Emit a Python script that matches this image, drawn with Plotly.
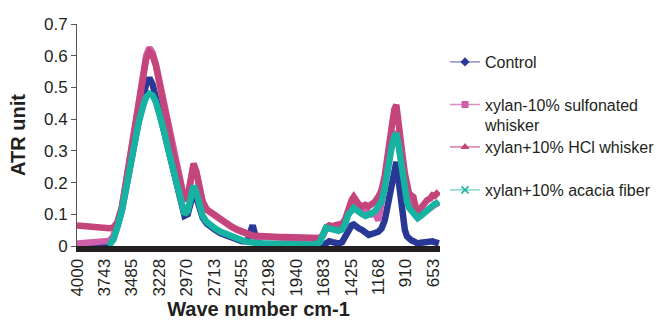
import plotly.graph_objects as go

wavenumber = [4000, 3950, 3900, 3850, 3800, 3750, 3700, 3660, 3620, 3580,
              3540, 3500, 3460, 3420, 3380, 3350, 3320, 3290, 3260, 3220,
              3180, 3140, 3100, 3060, 3020, 2990, 2960, 2930, 2905, 2880,
              2850, 2820, 2780, 2740, 2700, 2650, 2600, 2550, 2500, 2450,
              2400, 2370, 2350, 2330, 2300, 2250, 2200, 2150, 2100, 2050,
              2000, 1950, 1900, 1850, 1800, 1750, 1720, 1690, 1660, 1630,
              1600, 1570, 1540, 1510, 1480, 1450, 1420, 1400, 1380, 1350,
              1320, 1290, 1260, 1230, 1200, 1170, 1140, 1110, 1080, 1060,
              1040, 1020, 1000, 980, 960, 940, 920, 900, 880, 860,
              840, 820, 800, 770, 740, 710, 680, 660, 640, 620,
              600]

control = [0.005, 0.006, 0.008, 0.010, 0.012, 0.012, 0.010, 0.020, 0.060, 0.110,
           0.180, 0.260, 0.340, 0.410, 0.470, 0.510, 0.530, 0.510, 0.470, 0.410,
           0.355, 0.295, 0.240, 0.185, 0.130, 0.095, 0.100, 0.145, 0.170, 0.155,
           0.120, 0.090, 0.070, 0.058, 0.050, 0.040, 0.033, 0.026, 0.020, 0.015,
           0.015, 0.045, 0.065, 0.040, 0.010, 0.006, 0.005, 0.005, 0.005, 0.005,
           0.005, 0.005, 0.005, 0.005, 0.004, 0.004, 0.002, 0.000, 0.008, 0.015,
           0.012, 0.010, 0.008, 0.012, 0.030, 0.050, 0.065, 0.068, 0.060, 0.055,
           0.050, 0.042, 0.035, 0.038, 0.042, 0.045, 0.055, 0.080, 0.130, 0.170,
           0.210, 0.250, 0.265, 0.210, 0.150, 0.090, 0.050, 0.030, 0.020, 0.018,
           0.015, 0.010, 0.008, 0.010, 0.012, 0.012, 0.012, 0.015, 0.012, 0.008,
           0.008]

sulfonated = [0.008, 0.010, 0.010, 0.012, 0.013, 0.014, 0.016, 0.030, 0.075, 0.120,
              0.200, 0.290, 0.385, 0.465, 0.550, 0.600, 0.625, 0.610, 0.575, 0.510,
              0.440, 0.370, 0.300, 0.240, 0.180, 0.145, 0.155, 0.220, 0.255, 0.235,
              0.190, 0.140, 0.113, 0.103, 0.093, 0.080, 0.070, 0.060, 0.051, 0.043,
              0.036, 0.033, 0.031, 0.030, 0.029, 0.028, 0.028, 0.027, 0.026, 0.026,
              0.025, 0.024, 0.023, 0.022, 0.021, 0.021, 0.023, 0.033, 0.055, 0.060,
              0.058, 0.062, 0.066, 0.066, 0.080, 0.110, 0.130, 0.140, 0.130, 0.118,
              0.112, 0.110, 0.105, 0.100, 0.105, 0.080, 0.130, 0.170, 0.245, 0.290,
              0.330, 0.350, 0.360, 0.320, 0.270, 0.220, 0.175, 0.140, 0.125, 0.118,
              0.105, 0.098, 0.092, 0.100, 0.108, 0.115, 0.124, 0.128, 0.130, 0.133,
              0.138]

hcl = [0.065, 0.063, 0.062, 0.064, 0.060, 0.058, 0.056, 0.058, 0.075, 0.120,
       0.200, 0.290, 0.380, 0.460, 0.540, 0.590, 0.612, 0.600, 0.570, 0.510,
       0.440, 0.370, 0.300, 0.240, 0.180, 0.145, 0.155, 0.220, 0.260, 0.235,
       0.190, 0.140, 0.115, 0.105, 0.095, 0.082, 0.072, 0.062, 0.053, 0.045,
       0.038, 0.035, 0.033, 0.032, 0.031, 0.030, 0.030, 0.029, 0.028, 0.028,
       0.027, 0.026, 0.025, 0.024, 0.023, 0.023, 0.025, 0.035, 0.058, 0.065,
       0.062, 0.066, 0.070, 0.070, 0.085, 0.120, 0.145, 0.155, 0.145, 0.130,
       0.125, 0.130, 0.125, 0.130, 0.140, 0.155, 0.175, 0.220, 0.300, 0.350,
       0.400, 0.430, 0.445, 0.400, 0.340, 0.280, 0.230, 0.190, 0.165, 0.160,
       0.155, 0.125, 0.110, 0.120, 0.135, 0.145, 0.150, 0.160, 0.158, 0.165,
       0.172]

acacia = [None, None, None, None, None, None, 0.000, 0.020, 0.060, 0.110,
          0.180, 0.260, 0.330, 0.390, 0.440, 0.470, 0.480, 0.475, 0.455, 0.410,
          0.360, 0.300, 0.245, 0.190, 0.135, 0.100, 0.110, 0.160, 0.190, 0.170,
          0.130, 0.095, 0.075, 0.063, 0.055, 0.045, 0.037, 0.030, 0.024, 0.018,
          0.013, 0.011, 0.010, 0.009, 0.008, 0.007, 0.007, 0.006, 0.006, 0.006,
          0.006, 0.005, 0.005, 0.005, 0.005, 0.006, 0.012, 0.040, 0.058, 0.055,
          0.052, 0.050, 0.048, 0.052, 0.070, 0.100, 0.115, 0.120, 0.115, 0.105,
          0.100, 0.095, 0.097, 0.103, 0.110, 0.125, 0.140, 0.180, 0.250, 0.290,
          0.320, 0.345, 0.355, 0.320, 0.270, 0.220, 0.170, 0.140, 0.120, 0.110,
          0.100, 0.092, 0.088, 0.095, 0.105, 0.115, 0.125, 0.130, 0.132, 0.135,
          0.140]

tick_values = [4000, 3743, 3485, 3228, 2970, 2713, 2455, 2198, 1940, 1683, 1425, 1168, 910, 653]
tick_labels = [str(v) for v in tick_values]

series_names = ["Control", "xylan-10% sulfonated<br>whisker", "xylan+10% HCl whisker", "xylan+10% acacia fiber"]
series_data = [control, sulfonated, hcl, acacia]
line_colors = ["#2a3895", "#d05ea8", "#c4457c", "#16b3a3"]
legend_line_colors = ["#8a90c8", "#e08cc4", "#d97aa3", "#80d8cf"]
marker_symbols = ["diamond", "square", "triangle-up", "x-thin-open"]
marker_sizes = [7, 7, 8, 7]
legend_ids = ["legend", "legend2", "legend3", "legend4"]

L, R, T, B = 77, 440, 24, 246
W, H = 661, 325


def px_x(p):
    return (p - L) / (R - L)


def px_y(p):
    return (B - p) / (B - T)


fig = go.Figure()
for name, vals, col in zip(series_names, series_data, line_colors):
    fig.add_trace(go.Scatter(x=wavenumber, y=vals, mode="lines", name=name,
                             line=dict(color=col, width=6.5), showlegend=False,
                             connectgaps=False, hoverinfo="skip"))

for name, col, lcol, sym, ms, lid in zip(series_names, line_colors, legend_line_colors,
                                         marker_symbols, marker_sizes, legend_ids):
    mk = dict(color=col, symbol=sym, size=ms)
    if sym.startswith("x"):
        mk["line"] = dict(color=col, width=1.5)
    fig.add_trace(go.Scatter(x=[None], y=[None], mode="lines+markers", name=name,
                             line=dict(color=lcol, width=1.5), marker=mk,
                             showlegend=True, legend=lid))

legend_font = dict(family="Liberation Sans, Arial, sans-serif", size=16, color="#231f20")
legend_centers = [62, 115, 147, 190]
legends = {}
for lid, cy in zip(legend_ids, legend_centers):
    legends[lid] = dict(x=px_x(445), xanchor="left", y=px_y(cy), yanchor="middle",
                        font=legend_font, bgcolor="rgba(0,0,0,0)", borderwidth=0,
                        valign="top", itemwidth=30)

fig.update_layout(
    width=W, height=H,
    margin=dict(l=L, r=W - R, t=T, b=H - B, autoexpand=False),
    paper_bgcolor="white", plot_bgcolor="white",
    font=dict(family="Liberation Sans, Arial, sans-serif", color="#231f20"),
    **legends,
)

fig.update_xaxes(
    range=[4000, 590], tickmode="array", tickvals=tick_values, ticktext=tick_labels,
    tickangle=-90, tickfont=dict(size=17, color="#231f20"), automargin=False,
    showline=True, linecolor="#231f20", linewidth=6, ticks="",
    showgrid=False, zeroline=False,
    title=dict(text="<b>Wave number cm-1</b>", font=dict(size=20, color="#231f20"), standoff=8),
)
fig.update_yaxes(
    range=[0, 0.7], dtick=0.1, tick0=0, tickfont=dict(size=17, color="#231f20"),
    showline=True, linecolor="#555555", linewidth=1, ticks="outside", ticklen=5,
    tickcolor="#555555", showgrid=False, zeroline=False, automargin=False,
    title=dict(text="<b>ATR unit</b>", font=dict(size=20, color="#231f20"), standoff=12),
)

fig.write_html("out.html", config={"displayModeBar": False},
               post_script="document.body.style.margin='0';document.body.style.overflow='hidden';")
